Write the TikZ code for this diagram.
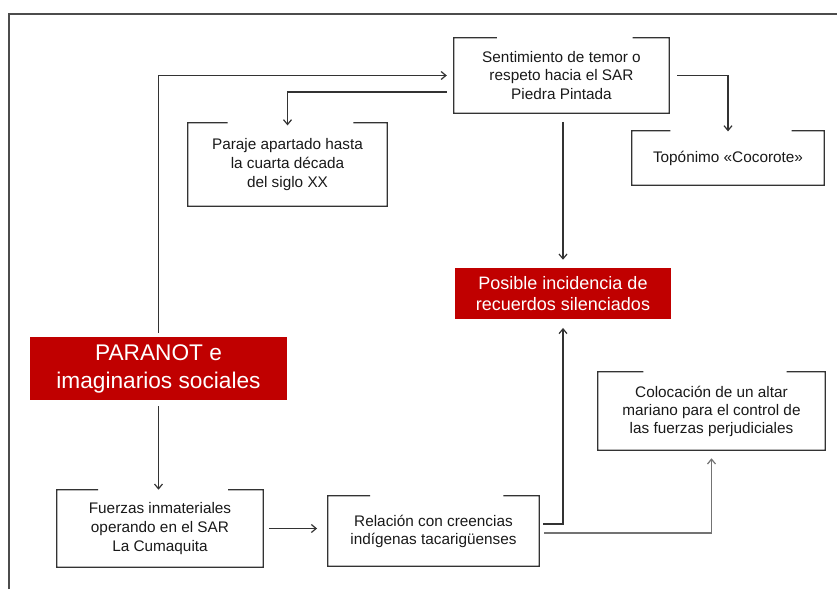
\documentclass[tikz,border=0pt]{standalone}
\usepackage{fontspec}
\setmainfont{Liberation Sans}
\usetikzlibrary{arrows.meta,calc}
\definecolor{boxred}{HTML}{C00000}
\definecolor{ink}{HTML}{333333}

% box outline whose top edge is open between 20% and 83% of the width
\newcommand\gapframe[1]{%
  \draw[frameline] ($(#1.north west)!0.83!(#1.north east)$) -- (#1.north east)
    -- (#1.south east) -- (#1.south west) -- (#1.north west)
    -- ($(#1.north west)!0.20!(#1.north east)$);
}

\tikzset{
  frameline/.style={draw=ink, line width=1pt, line join=miter},
  wbox/.style={inner sep=0pt, align=center, text=black!90,
    font=\fontsize{11.5}{14.2}\selectfont},
  rbox/.style={inner sep=0pt, align=center, fill=boxred, text=white},
  link/.style={draw=ink, line width=0.9pt,
    -{Straight Barb[length=3.6pt,width=6pt]}},
}

\begin{document}
\begin{tikzpicture}[x=0.75pt, y=-0.75pt]
\useasboundingbox (0,0) rectangle (837,589);

% outer frame
\draw[draw=black!70, line width=0.9pt] (9,589) -- (9,14) -- (837,14);

% nodes
\node[wbox, minimum width=161.25pt, minimum height=56.25pt] (sent) at (561.5,75.5)
  {Sentimiento de temor o\\respeto hacia el SAR\\Piedra Pintada};
\node[wbox, minimum width=149.25pt, minimum height=62.25pt] (paraje) at (287.5,164.5)
  {Paraje apartado hasta\\la cuarta década\\del siglo XX};
\node[wbox, minimum width=144pt, minimum height=40.5pt] (topo) at (728,158)
  {Topónimo «Cocorote»};
\node[rbox, minimum width=162pt, minimum height=38.25pt,
  font=\fontsize{13.5}{15.8}\selectfont] (posible) at (563,293.5)
  {Posible incidencia de\\recuerdos silenciados};
\node[rbox, minimum width=192.75pt, minimum height=47.25pt,
  font=\fontsize{17}{21}\selectfont] (paranot) at (158.5,368.5)
  {PARANOT e\\imaginarios sociales};
\node[wbox, minimum width=170.25pt, minimum height=58.5pt,
  font=\fontsize{11.5}{13.5}\selectfont] (coloc) at (711.5,411)
  {Colocación de un altar\\mariano para el control de\\las fuerzas perjudiciales};
\node[wbox, minimum width=154.5pt, minimum height=57.75pt] (fuerzas) at (160,528.5)
  {Fuerzas inmateriales\\operando en el SAR\\La Cumaquita};
\node[wbox, minimum width=158.25pt, minimum height=52.5pt,
  font=\fontsize{11.5}{13.5}\selectfont] (relacion) at (433.5,531)
  {Relación con creencias\\indígenas tacarigüenses};

% open-topped outlines of the white boxes
\gapframe{sent}
\gapframe{paraje}
\gapframe{topo}
\gapframe{coloc}
\gapframe{fuerzas}
\gapframe{relacion}

% connectors
\draw[link, shorten <=3pt, shorten >=5.2pt] (paranot.north) |- (sent.west);
\draw[link, shorten <=5.2pt, shorten >=-2pt] ($(sent.west)+(0,16.5)$) -| (paraje.north);
\draw[link, shorten <=6pt, shorten >=-0.5pt] (sent.east) -| (topo.north);
\draw[link, shorten <=6.5pt, shorten >=6pt] (sent.south -| posible.north) -- (posible.north);
\draw[link, shorten >=6.5pt] ($(relacion.east)+(4,-7)$) -| (posible.south);
\draw[link, draw=black!55, shorten >=6pt] ($(relacion.east)+(5,2)$) -| (coloc.south);
\draw[link, shorten <=4.5pt] (paranot.south) -- (paranot.south |- fuerzas.north);
\draw[link, shorten <=4.5pt, shorten >=8pt] (fuerzas.east) -- (relacion.west |- fuerzas.east);
\end{tikzpicture}
\end{document}
